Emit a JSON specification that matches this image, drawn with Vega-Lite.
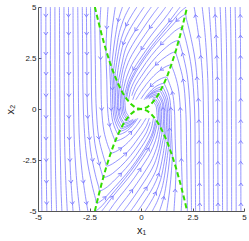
{
"$schema": "https://vega.github.io/schema/vega-lite/v6.json",
"width": 206, "height": 204,
"autosize": {"type": "none"},
"padding": {"left": 38, "top": 7, "right": 5, "bottom": 30},
"background": "white",
"config": {"view": {"stroke": null}, "axis": {"grid": false, "domainColor": "#555555", "tickColor": "#555555", "labelFont": "Liberation Sans", "labelFontSize": 8, "labelColor": "#222222", "titleFont": "Liberation Sans", "titleFontSize": 11, "titleFontWeight": "normal", "titleColor": "#222222"}},
"datasets": {
"s": [
{"l":0,"o":0,"x":2.2,"y":5},{"l":0,"o":1,"x":2.0,"y":4.85},{"l":0,"o":2,"x":1.75,"y":4.58},{"l":0,"o":3,"x":1.5,"y":4.28},{"l":0,"o":4,"x":1.25,"y":3.98},{"l":0,"o":5,"x":1.0,"y":3.68},{"l":0,"o":6,"x":0.75,"y":3.37},{"l":0,"o":7,"x":0.5,"y":3.05},{"l":0,"o":8,"x":0.25,"y":2.7},{"l":0,"o":9,"x":0,"y":2.33},{"l":0,"o":10,"x":-0.25,"y":1.93},{"l":0,"o":11,"x":-0.5,"y":1.45},{"l":0,"o":12,"x":-0.65,"y":1.0},{"l":0,"o":13,"x":-0.74,"y":0.56},
{"l":1,"o":0,"x":1.9,"y":5},{"l":1,"o":1,"x":1.65,"y":4.67},{"l":1,"o":2,"x":1.4,"y":4.33},{"l":1,"o":3,"x":1.15,"y":4.02},{"l":1,"o":4,"x":0.9,"y":3.72},{"l":1,"o":5,"x":0.65,"y":3.42},{"l":1,"o":6,"x":0.4,"y":3.1},{"l":1,"o":7,"x":0.15,"y":2.74},{"l":1,"o":8,"x":-0.1,"y":2.37},{"l":1,"o":9,"x":-0.35,"y":1.97},{"l":1,"o":10,"x":-0.6,"y":1.44},{"l":1,"o":11,"x":-0.72,"y":1.0},{"l":1,"o":12,"x":-0.8,"y":0.64},{"l":1,"o":13,"x":-0.78,"y":0.32},{"l":1,"o":14,"x":-0.76,"y":0},{"l":1,"o":15,"x":-0.72,"y":-0.17},{"l":1,"o":16,"x":-0.65,"y":-0.28},{"l":1,"o":17,"x":-0.61,"y":-0.33},{"l":1,"o":18,"x":-0.59,"y":-0.35},
{"l":2,"o":0,"x":1.55,"y":5},{"l":2,"o":1,"x":1.3,"y":4.64},{"l":2,"o":2,"x":1.05,"y":4.31},{"l":2,"o":3,"x":0.8,"y":4.0},{"l":2,"o":4,"x":0.55,"y":3.68},{"l":2,"o":5,"x":0.3,"y":3.34},{"l":2,"o":6,"x":0.05,"y":2.97},{"l":2,"o":7,"x":-0.2,"y":2.59},{"l":2,"o":8,"x":-0.45,"y":2.17},{"l":2,"o":9,"x":-0.7,"y":1.56},{"l":2,"o":10,"x":-0.82,"y":1.1},{"l":2,"o":11,"x":-0.88,"y":0.77},{"l":2,"o":12,"x":-0.86,"y":0.39},{"l":2,"o":13,"x":-0.84,"y":0},{"l":2,"o":14,"x":-0.79,"y":-0.21},{"l":2,"o":15,"x":-0.72,"y":-0.33},{"l":2,"o":16,"x":-0.67,"y":-0.4},{"l":2,"o":17,"x":-0.65,"y":-0.42},{"l":2,"o":18,"x":-0.55,"y":-0.41},
{"l":3,"o":0,"x":1.2,"y":5},{"l":3,"o":1,"x":0.95,"y":4.66},{"l":3,"o":2,"x":0.7,"y":4.34},{"l":3,"o":3,"x":0.45,"y":4.01},{"l":3,"o":4,"x":0.2,"y":3.65},{"l":3,"o":5,"x":-0.05,"y":3.28},{"l":3,"o":6,"x":-0.3,"y":2.89},{"l":3,"o":7,"x":-0.55,"y":2.44},{"l":3,"o":8,"x":-0.8,"y":1.76},{"l":3,"o":9,"x":-0.9,"y":1.25},{"l":3,"o":10,"x":-0.95,"y":0.9},{"l":3,"o":11,"x":-0.93,"y":0.45},{"l":3,"o":12,"x":-0.91,"y":0},{"l":3,"o":13,"x":-0.86,"y":-0.24},{"l":3,"o":14,"x":-0.77,"y":-0.39},{"l":3,"o":15,"x":-0.72,"y":-0.46},{"l":3,"o":16,"x":-0.7,"y":-0.49},{"l":3,"o":17,"x":-0.55,"y":-0.47},
{"l":4,"o":0,"x":0.85,"y":5},{"l":4,"o":1,"x":0.6,"y":4.67},{"l":4,"o":2,"x":0.35,"y":4.32},{"l":4,"o":3,"x":0.1,"y":3.95},{"l":4,"o":4,"x":-0.15,"y":3.57},{"l":4,"o":5,"x":-0.4,"y":3.17},{"l":4,"o":6,"x":-0.65,"y":2.69},{"l":4,"o":7,"x":-0.88,"y":1.95},{"l":4,"o":8,"x":-0.98,"y":1.4},{"l":4,"o":9,"x":-1.03,"y":1.06},{"l":4,"o":10,"x":-1.0,"y":0.53},{"l":4,"o":11,"x":-0.98,"y":0},{"l":4,"o":12,"x":-0.93,"y":-0.29},{"l":4,"o":13,"x":-0.84,"y":-0.46},{"l":4,"o":14,"x":-0.78,"y":-0.54},{"l":4,"o":15,"x":-0.76,"y":-0.58},{"l":4,"o":16,"x":-0.57,"y":-0.54},
{"l":5,"o":0,"x":0.5,"y":5},{"l":5,"o":1,"x":0.25,"y":4.65},{"l":5,"o":2,"x":0,"y":4.27},{"l":5,"o":3,"x":-0.25,"y":3.89},{"l":5,"o":4,"x":-0.5,"y":3.47},{"l":5,"o":5,"x":-0.75,"y":2.95},{"l":5,"o":6,"x":-0.95,"y":2.1},{"l":5,"o":7,"x":-1.06,"y":1.55},{"l":5,"o":8,"x":-1.12,"y":1.25},{"l":5,"o":9,"x":-1.09,"y":0.63},{"l":5,"o":10,"x":-1.07,"y":0},{"l":5,"o":11,"x":-1.01,"y":-0.34},{"l":5,"o":12,"x":-0.91,"y":-0.54},{"l":5,"o":13,"x":-0.85,"y":-0.64},{"l":5,"o":14,"x":-0.82,"y":-0.68},{"l":5,"o":15,"x":-0.6,"y":-0.63},{"l":5,"o":16,"x":-0.38,"y":-0.5},
{"l":6,"o":0,"x":0.15,"y":5},{"l":6,"o":1,"x":-0.1,"y":4.63},{"l":6,"o":2,"x":-0.35,"y":4.24},{"l":6,"o":3,"x":-0.6,"y":3.8},{"l":6,"o":4,"x":-0.85,"y":3.22},{"l":6,"o":5,"x":-1.05,"y":2.35},{"l":6,"o":6,"x":-1.14,"y":1.75},{"l":6,"o":7,"x":-1.18,"y":1.39},{"l":6,"o":8,"x":-1.15,"y":0.7},{"l":6,"o":9,"x":-1.13,"y":0},{"l":6,"o":10,"x":-1.06,"y":-0.38},{"l":6,"o":11,"x":-0.96,"y":-0.6},{"l":6,"o":12,"x":-0.89,"y":-0.71},{"l":6,"o":13,"x":-0.87,"y":-0.75},{"l":6,"o":14,"x":-0.62,"y":-0.71},{"l":6,"o":15,"x":-0.38,"y":-0.55},
{"l":7,"o":0,"x":-0.2,"y":5},{"l":7,"o":1,"x":-0.45,"y":4.6},{"l":7,"o":2,"x":-0.7,"y":4.14},{"l":7,"o":3,"x":-0.95,"y":3.47},{"l":7,"o":4,"x":-1.13,"y":2.6},{"l":7,"o":5,"x":-1.22,"y":2.0},{"l":7,"o":6,"x":-1.27,"y":1.61},{"l":7,"o":7,"x":-1.24,"y":0.81},{"l":7,"o":8,"x":-1.21,"y":0},{"l":7,"o":9,"x":-1.14,"y":-0.44},{"l":7,"o":10,"x":-1.03,"y":-0.7},{"l":7,"o":11,"x":-0.96,"y":-0.83},{"l":7,"o":12,"x":-0.93,"y":-0.87},{"l":7,"o":13,"x":-0.75,"y":-0.84},{"l":7,"o":14,"x":-0.5,"y":-0.72},{"l":7,"o":15,"x":-0.25,"y":-0.48},
{"l":8,"o":0,"x":-0.55,"y":5},{"l":8,"o":1,"x":-0.8,"y":4.5},{"l":8,"o":2,"x":-1.05,"y":3.75},{"l":8,"o":3,"x":-1.22,"y":2.75},{"l":8,"o":4,"x":-1.3,"y":2.15},{"l":8,"o":5,"x":-1.34,"y":1.8},{"l":8,"o":6,"x":-1.31,"y":0.9},{"l":8,"o":7,"x":-1.28,"y":0},{"l":8,"o":8,"x":-1.21,"y":-0.49},{"l":8,"o":9,"x":-1.09,"y":-0.78},{"l":8,"o":10,"x":-1.01,"y":-0.92},{"l":8,"o":11,"x":-0.98,"y":-0.97},{"l":8,"o":12,"x":-0.75,"y":-0.9},{"l":8,"o":13,"x":-0.5,"y":-0.76},{"l":8,"o":14,"x":-0.25,"y":-0.52},
{"l":9,"o":0,"x":-0.9,"y":5},{"l":9,"o":1,"x":-1.1,"y":4.36},{"l":9,"o":2,"x":-1.27,"y":3.4},{"l":9,"o":3,"x":-1.37,"y":2.6},{"l":9,"o":4,"x":-1.42,"y":2.02},{"l":9,"o":5,"x":-1.39,"y":1.01},{"l":9,"o":6,"x":-1.36,"y":0},{"l":9,"o":7,"x":-1.28,"y":-0.55},{"l":9,"o":8,"x":-1.16,"y":-0.87},{"l":9,"o":9,"x":-1.08,"y":-1.04},{"l":9,"o":10,"x":-1.04,"y":-1.09},{"l":9,"o":11,"x":-0.8,"y":-1.02},{"l":9,"o":12,"x":-0.55,"y":-0.86},{"l":9,"o":13,"x":-0.3,"y":-0.6},
{"l":10,"o":0,"x":-1.25,"y":5},{"l":10,"o":1,"x":-1.4,"y":3.92},{"l":10,"o":2,"x":-1.48,"y":3.0},{"l":10,"o":3,"x":-1.52,"y":2.31},{"l":10,"o":4,"x":-1.48,"y":1.16},{"l":10,"o":5,"x":-1.45,"y":0},{"l":10,"o":6,"x":-1.37,"y":-0.62},{"l":10,"o":7,"x":-1.24,"y":-1.0},{"l":10,"o":8,"x":-1.15,"y":-1.19},{"l":10,"o":9,"x":-1.12,"y":-1.25},{"l":10,"o":10,"x":-0.9,"y":-1.2},{"l":10,"o":11,"x":-0.65,"y":-1.05},{"l":10,"o":12,"x":-0.4,"y":-0.8},{"l":10,"o":13,"x":-0.15,"y":-0.45},
{"l":11,"o":0,"x":-1.6,"y":5},{"l":11,"o":1,"x":-1.66,"y":4.0},{"l":11,"o":2,"x":-1.7,"y":2.89},{"l":11,"o":3,"x":-1.66,"y":1.45},{"l":11,"o":4,"x":-1.62,"y":0},{"l":11,"o":5,"x":-1.53,"y":-0.78},{"l":11,"o":6,"x":-1.38,"y":-1.25},{"l":11,"o":7,"x":-1.29,"y":-1.48},{"l":11,"o":8,"x":-1.25,"y":-1.56},{"l":11,"o":9,"x":-1.0,"y":-1.5},{"l":11,"o":10,"x":-0.75,"y":-1.36},{"l":11,"o":11,"x":-0.5,"y":-1.15},{"l":11,"o":12,"x":-0.25,"y":-0.86},{"l":11,"o":13,"x":0,"y":-0.5},
{"l":12,"o":0,"x":-1.95,"y":5},{"l":12,"o":1,"x":-1.98,"y":4.5},{"l":12,"o":2,"x":-2.0,"y":4.0},{"l":12,"o":3,"x":-1.95,"y":2.0},{"l":12,"o":4,"x":-1.91,"y":0},{"l":12,"o":5,"x":-1.8,"y":-1.08},{"l":12,"o":6,"x":-1.63,"y":-1.73},{"l":12,"o":7,"x":-1.51,"y":-2.05},{"l":12,"o":8,"x":-1.47,"y":-2.16},{"l":12,"o":9,"x":-1.25,"y":-2.1},{"l":12,"o":10,"x":-1.0,"y":-1.95},{"l":12,"o":11,"x":-0.75,"y":-1.75},{"l":12,"o":12,"x":-0.5,"y":-1.5},{"l":12,"o":13,"x":-0.25,"y":-1.2},{"l":12,"o":14,"x":0,"y":-0.85},{"l":12,"o":15,"x":0.25,"y":-0.45},
{"l":13,"o":0,"x":-2.25,"y":5},{"l":13,"o":1,"x":-2.22,"y":2.5},{"l":13,"o":2,"x":-2.17,"y":0},{"l":13,"o":3,"x":-2.05,"y":-1.4},{"l":13,"o":4,"x":-1.85,"y":-2.23},{"l":13,"o":5,"x":-1.72,"y":-2.65},{"l":13,"o":6,"x":-1.67,"y":-2.79},{"l":13,"o":7,"x":-1.5,"y":-2.75},{"l":13,"o":8,"x":-1.25,"y":-2.6},{"l":13,"o":9,"x":-1.0,"y":-2.42},{"l":13,"o":10,"x":-0.75,"y":-2.2},{"l":13,"o":11,"x":-0.5,"y":-1.93},{"l":13,"o":12,"x":-0.25,"y":-1.6},{"l":13,"o":13,"x":0,"y":-1.25},{"l":13,"o":14,"x":0.25,"y":-0.85},{"l":13,"o":15,"x":0.4,"y":-0.45},
{"l":14,"o":0,"x":-2.45,"y":5},{"l":14,"o":1,"x":-2.42,"y":2.5},{"l":14,"o":2,"x":-2.38,"y":0},{"l":14,"o":3,"x":-2.24,"y":-1.68},{"l":14,"o":4,"x":-2.03,"y":-2.68},{"l":14,"o":5,"x":-1.89,"y":-3.18},{"l":14,"o":6,"x":-1.83,"y":-3.35},{"l":14,"o":7,"x":-1.5,"y":-3.24},{"l":14,"o":8,"x":-1.25,"y":-3.05},{"l":14,"o":9,"x":-1.0,"y":-2.83},{"l":14,"o":10,"x":-0.75,"y":-2.57},{"l":14,"o":11,"x":-0.5,"y":-2.28},{"l":14,"o":12,"x":-0.25,"y":-1.95},{"l":14,"o":13,"x":0,"y":-1.58},{"l":14,"o":14,"x":0.25,"y":-1.18},{"l":14,"o":15,"x":0.45,"y":-0.65},
{"l":15,"o":0,"x":-2.65,"y":5},{"l":15,"o":1,"x":-2.63,"y":2.5},{"l":15,"o":2,"x":-2.6,"y":0},{"l":15,"o":3,"x":-2.45,"y":-2},{"l":15,"o":4,"x":-2.22,"y":-3.2},{"l":15,"o":5,"x":-2.06,"y":-3.8},{"l":15,"o":6,"x":-2.0,"y":-4.0},{"l":15,"o":7,"x":-1.75,"y":-3.9},{"l":15,"o":8,"x":-1.5,"y":-3.7},{"l":15,"o":9,"x":-1.25,"y":-3.45},{"l":15,"o":10,"x":-1.0,"y":-3.2},{"l":15,"o":11,"x":-0.75,"y":-2.92},{"l":15,"o":12,"x":-0.5,"y":-2.62},{"l":15,"o":13,"x":-0.25,"y":-2.28},{"l":15,"o":14,"x":0,"y":-1.9},{"l":15,"o":15,"x":0.25,"y":-1.5},{"l":15,"o":16,"x":0.5,"y":-0.95},{"l":15,"o":17,"x":0.6,"y":-0.45},
{"l":16,"o":0,"x":-2.85,"y":5},{"l":16,"o":1,"x":-2.83,"y":2.5},{"l":16,"o":2,"x":-2.8,"y":0},{"l":16,"o":3,"x":-2.64,"y":-2.31},{"l":16,"o":4,"x":-2.38,"y":-3.7},{"l":16,"o":5,"x":-2.21,"y":-4.39},{"l":16,"o":6,"x":-2.15,"y":-4.62},{"l":16,"o":7,"x":-2.0,"y":-4.55},{"l":16,"o":8,"x":-1.75,"y":-4.35},{"l":16,"o":9,"x":-1.5,"y":-4.08},{"l":16,"o":10,"x":-1.25,"y":-3.8},{"l":16,"o":11,"x":-1.0,"y":-3.52},{"l":16,"o":12,"x":-0.75,"y":-3.23},{"l":16,"o":13,"x":-0.5,"y":-2.92},{"l":16,"o":14,"x":-0.25,"y":-2.57},{"l":16,"o":15,"x":0,"y":-2.2},{"l":16,"o":16,"x":0.25,"y":-1.8},{"l":16,"o":17,"x":0.5,"y":-1.3},{"l":16,"o":18,"x":0.6,"y":-1.0},{"l":16,"o":19,"x":0.7,"y":-0.5},
{"l":17,"o":0,"x":-3.07,"y":5},{"l":17,"o":1,"x":-3.05,"y":2.5},{"l":17,"o":2,"x":-3.03,"y":0},{"l":17,"o":3,"x":-2.99,"y":-1.5},{"l":17,"o":4,"x":-2.87,"y":-3},{"l":17,"o":5,"x":-2.74,"y":-4},{"l":17,"o":6,"x":-2.58,"y":-5},
{"l":18,"o":0,"x":-3.3,"y":5},{"l":18,"o":1,"x":-3.29,"y":2.5},{"l":18,"o":2,"x":-3.27,"y":0},{"l":18,"o":3,"x":-3.24,"y":-1.5},{"l":18,"o":4,"x":-3.16,"y":-3},{"l":18,"o":5,"x":-3.08,"y":-4},{"l":18,"o":6,"x":-2.97,"y":-5},
{"l":19,"o":0,"x":-3.52,"y":5},{"l":19,"o":1,"x":-3.51,"y":2.5},{"l":19,"o":2,"x":-3.5,"y":0},{"l":19,"o":3,"x":-3.48,"y":-1.5},{"l":19,"o":4,"x":-3.43,"y":-3},{"l":19,"o":5,"x":-3.37,"y":-4},{"l":19,"o":6,"x":-3.3,"y":-5},
{"l":20,"o":0,"x":-3.74,"y":5},{"l":20,"o":1,"x":-3.73,"y":2.5},{"l":20,"o":2,"x":-3.72,"y":0},{"l":20,"o":3,"x":-3.71,"y":-1.5},{"l":20,"o":4,"x":-3.67,"y":-3},{"l":20,"o":5,"x":-3.63,"y":-4},{"l":20,"o":6,"x":-3.58,"y":-5},
{"l":21,"o":0,"x":-3.96,"y":5},{"l":21,"o":1,"x":-3.95,"y":2.5},{"l":21,"o":2,"x":-3.94,"y":0},{"l":21,"o":3,"x":-3.93,"y":-1.5},{"l":21,"o":4,"x":-3.9,"y":-3},{"l":21,"o":5,"x":-3.88,"y":-4},{"l":21,"o":6,"x":-3.84,"y":-5},
{"l":22,"o":0,"x":-4.18,"y":5},{"l":22,"o":1,"x":-4.17,"y":0},{"l":22,"o":2,"x":-4.15,"y":-3},{"l":22,"o":3,"x":-4.1,"y":-5},
{"l":23,"o":0,"x":-4.4,"y":5},{"l":23,"o":1,"x":-4.39,"y":0},{"l":23,"o":2,"x":-4.37,"y":-3},{"l":23,"o":3,"x":-4.34,"y":-5},
{"l":24,"o":0,"x":-4.62,"y":5},{"l":24,"o":1,"x":-4.61,"y":0},{"l":24,"o":2,"x":-4.6,"y":-3},{"l":24,"o":3,"x":-4.57,"y":-5},
{"l":25,"o":0,"x":-4.85,"y":5},{"l":25,"o":1,"x":-4.84,"y":0},{"l":25,"o":2,"x":-4.83,"y":-3},{"l":25,"o":3,"x":-4.81,"y":-5},
{"l":100,"o":0,"x":-2.2,"y":-5},{"l":100,"o":1,"x":-2.0,"y":-4.85},{"l":100,"o":2,"x":-1.75,"y":-4.58},{"l":100,"o":3,"x":-1.5,"y":-4.28},{"l":100,"o":4,"x":-1.25,"y":-3.98},{"l":100,"o":5,"x":-1.0,"y":-3.68},{"l":100,"o":6,"x":-0.75,"y":-3.37},{"l":100,"o":7,"x":-0.5,"y":-3.05},{"l":100,"o":8,"x":-0.25,"y":-2.7},{"l":100,"o":9,"x":0,"y":-2.33},{"l":100,"o":10,"x":0.25,"y":-1.93},{"l":100,"o":11,"x":0.5,"y":-1.45},{"l":100,"o":12,"x":0.65,"y":-1.0},{"l":100,"o":13,"x":0.74,"y":-0.56},
{"l":101,"o":0,"x":-1.9,"y":-5},{"l":101,"o":1,"x":-1.65,"y":-4.67},{"l":101,"o":2,"x":-1.4,"y":-4.33},{"l":101,"o":3,"x":-1.15,"y":-4.02},{"l":101,"o":4,"x":-0.9,"y":-3.72},{"l":101,"o":5,"x":-0.65,"y":-3.42},{"l":101,"o":6,"x":-0.4,"y":-3.1},{"l":101,"o":7,"x":-0.15,"y":-2.74},{"l":101,"o":8,"x":0.1,"y":-2.37},{"l":101,"o":9,"x":0.35,"y":-1.97},{"l":101,"o":10,"x":0.6,"y":-1.44},{"l":101,"o":11,"x":0.72,"y":-1.0},{"l":101,"o":12,"x":0.8,"y":-0.64},{"l":101,"o":13,"x":0.78,"y":-0.32},{"l":101,"o":14,"x":0.76,"y":0},{"l":101,"o":15,"x":0.72,"y":0.17},{"l":101,"o":16,"x":0.65,"y":0.28},{"l":101,"o":17,"x":0.61,"y":0.33},{"l":101,"o":18,"x":0.59,"y":0.35},
{"l":102,"o":0,"x":-1.55,"y":-5},{"l":102,"o":1,"x":-1.3,"y":-4.64},{"l":102,"o":2,"x":-1.05,"y":-4.31},{"l":102,"o":3,"x":-0.8,"y":-4.0},{"l":102,"o":4,"x":-0.55,"y":-3.68},{"l":102,"o":5,"x":-0.3,"y":-3.34},{"l":102,"o":6,"x":-0.05,"y":-2.97},{"l":102,"o":7,"x":0.2,"y":-2.59},{"l":102,"o":8,"x":0.45,"y":-2.17},{"l":102,"o":9,"x":0.7,"y":-1.56},{"l":102,"o":10,"x":0.82,"y":-1.1},{"l":102,"o":11,"x":0.88,"y":-0.77},{"l":102,"o":12,"x":0.86,"y":-0.39},{"l":102,"o":13,"x":0.84,"y":0},{"l":102,"o":14,"x":0.79,"y":0.21},{"l":102,"o":15,"x":0.72,"y":0.33},{"l":102,"o":16,"x":0.67,"y":0.4},{"l":102,"o":17,"x":0.65,"y":0.42},{"l":102,"o":18,"x":0.55,"y":0.41},
{"l":103,"o":0,"x":-1.2,"y":-5},{"l":103,"o":1,"x":-0.95,"y":-4.66},{"l":103,"o":2,"x":-0.7,"y":-4.34},{"l":103,"o":3,"x":-0.45,"y":-4.01},{"l":103,"o":4,"x":-0.2,"y":-3.65},{"l":103,"o":5,"x":0.05,"y":-3.28},{"l":103,"o":6,"x":0.3,"y":-2.89},{"l":103,"o":7,"x":0.55,"y":-2.44},{"l":103,"o":8,"x":0.8,"y":-1.76},{"l":103,"o":9,"x":0.9,"y":-1.25},{"l":103,"o":10,"x":0.95,"y":-0.9},{"l":103,"o":11,"x":0.93,"y":-0.45},{"l":103,"o":12,"x":0.91,"y":0},{"l":103,"o":13,"x":0.86,"y":0.24},{"l":103,"o":14,"x":0.77,"y":0.39},{"l":103,"o":15,"x":0.72,"y":0.46},{"l":103,"o":16,"x":0.7,"y":0.49},{"l":103,"o":17,"x":0.55,"y":0.47},
{"l":104,"o":0,"x":-0.85,"y":-5},{"l":104,"o":1,"x":-0.6,"y":-4.67},{"l":104,"o":2,"x":-0.35,"y":-4.32},{"l":104,"o":3,"x":-0.1,"y":-3.95},{"l":104,"o":4,"x":0.15,"y":-3.57},{"l":104,"o":5,"x":0.4,"y":-3.17},{"l":104,"o":6,"x":0.65,"y":-2.69},{"l":104,"o":7,"x":0.88,"y":-1.95},{"l":104,"o":8,"x":0.98,"y":-1.4},{"l":104,"o":9,"x":1.03,"y":-1.06},{"l":104,"o":10,"x":1.0,"y":-0.53},{"l":104,"o":11,"x":0.98,"y":0},{"l":104,"o":12,"x":0.93,"y":0.29},{"l":104,"o":13,"x":0.84,"y":0.46},{"l":104,"o":14,"x":0.78,"y":0.54},{"l":104,"o":15,"x":0.76,"y":0.58},{"l":104,"o":16,"x":0.57,"y":0.54},
{"l":105,"o":0,"x":-0.5,"y":-5},{"l":105,"o":1,"x":-0.25,"y":-4.65},{"l":105,"o":2,"x":0,"y":-4.27},{"l":105,"o":3,"x":0.25,"y":-3.89},{"l":105,"o":4,"x":0.5,"y":-3.47},{"l":105,"o":5,"x":0.75,"y":-2.95},{"l":105,"o":6,"x":0.95,"y":-2.1},{"l":105,"o":7,"x":1.06,"y":-1.55},{"l":105,"o":8,"x":1.12,"y":-1.25},{"l":105,"o":9,"x":1.09,"y":-0.63},{"l":105,"o":10,"x":1.07,"y":0},{"l":105,"o":11,"x":1.01,"y":0.34},{"l":105,"o":12,"x":0.91,"y":0.54},{"l":105,"o":13,"x":0.85,"y":0.64},{"l":105,"o":14,"x":0.82,"y":0.68},{"l":105,"o":15,"x":0.6,"y":0.63},{"l":105,"o":16,"x":0.38,"y":0.5},
{"l":106,"o":0,"x":-0.15,"y":-5},{"l":106,"o":1,"x":0.1,"y":-4.63},{"l":106,"o":2,"x":0.35,"y":-4.24},{"l":106,"o":3,"x":0.6,"y":-3.8},{"l":106,"o":4,"x":0.85,"y":-3.22},{"l":106,"o":5,"x":1.05,"y":-2.35},{"l":106,"o":6,"x":1.14,"y":-1.75},{"l":106,"o":7,"x":1.18,"y":-1.39},{"l":106,"o":8,"x":1.15,"y":-0.7},{"l":106,"o":9,"x":1.13,"y":0},{"l":106,"o":10,"x":1.06,"y":0.38},{"l":106,"o":11,"x":0.96,"y":0.6},{"l":106,"o":12,"x":0.89,"y":0.71},{"l":106,"o":13,"x":0.87,"y":0.75},{"l":106,"o":14,"x":0.62,"y":0.71},{"l":106,"o":15,"x":0.38,"y":0.55},
{"l":107,"o":0,"x":0.2,"y":-5},{"l":107,"o":1,"x":0.45,"y":-4.6},{"l":107,"o":2,"x":0.7,"y":-4.14},{"l":107,"o":3,"x":0.95,"y":-3.47},{"l":107,"o":4,"x":1.13,"y":-2.6},{"l":107,"o":5,"x":1.22,"y":-2.0},{"l":107,"o":6,"x":1.27,"y":-1.61},{"l":107,"o":7,"x":1.24,"y":-0.81},{"l":107,"o":8,"x":1.21,"y":0},{"l":107,"o":9,"x":1.14,"y":0.44},{"l":107,"o":10,"x":1.03,"y":0.7},{"l":107,"o":11,"x":0.96,"y":0.83},{"l":107,"o":12,"x":0.93,"y":0.87},{"l":107,"o":13,"x":0.75,"y":0.84},{"l":107,"o":14,"x":0.5,"y":0.72},{"l":107,"o":15,"x":0.25,"y":0.48},
{"l":108,"o":0,"x":0.55,"y":-5},{"l":108,"o":1,"x":0.8,"y":-4.5},{"l":108,"o":2,"x":1.05,"y":-3.75},{"l":108,"o":3,"x":1.22,"y":-2.75},{"l":108,"o":4,"x":1.3,"y":-2.15},{"l":108,"o":5,"x":1.34,"y":-1.8},{"l":108,"o":6,"x":1.31,"y":-0.9},{"l":108,"o":7,"x":1.28,"y":0},{"l":108,"o":8,"x":1.21,"y":0.49},{"l":108,"o":9,"x":1.09,"y":0.78},{"l":108,"o":10,"x":1.01,"y":0.92},{"l":108,"o":11,"x":0.98,"y":0.97},{"l":108,"o":12,"x":0.75,"y":0.9},{"l":108,"o":13,"x":0.5,"y":0.76},{"l":108,"o":14,"x":0.25,"y":0.52},
{"l":109,"o":0,"x":0.9,"y":-5},{"l":109,"o":1,"x":1.1,"y":-4.36},{"l":109,"o":2,"x":1.27,"y":-3.4},{"l":109,"o":3,"x":1.37,"y":-2.6},{"l":109,"o":4,"x":1.42,"y":-2.02},{"l":109,"o":5,"x":1.39,"y":-1.01},{"l":109,"o":6,"x":1.36,"y":0},{"l":109,"o":7,"x":1.28,"y":0.55},{"l":109,"o":8,"x":1.16,"y":0.87},{"l":109,"o":9,"x":1.08,"y":1.04},{"l":109,"o":10,"x":1.04,"y":1.09},{"l":109,"o":11,"x":0.8,"y":1.02},{"l":109,"o":12,"x":0.55,"y":0.86},{"l":109,"o":13,"x":0.3,"y":0.6},
{"l":110,"o":0,"x":1.25,"y":-5},{"l":110,"o":1,"x":1.4,"y":-3.92},{"l":110,"o":2,"x":1.48,"y":-3.0},{"l":110,"o":3,"x":1.52,"y":-2.31},{"l":110,"o":4,"x":1.48,"y":-1.16},{"l":110,"o":5,"x":1.45,"y":0},{"l":110,"o":6,"x":1.37,"y":0.62},{"l":110,"o":7,"x":1.24,"y":1.0},{"l":110,"o":8,"x":1.15,"y":1.19},{"l":110,"o":9,"x":1.12,"y":1.25},{"l":110,"o":10,"x":0.9,"y":1.2},{"l":110,"o":11,"x":0.65,"y":1.05},{"l":110,"o":12,"x":0.4,"y":0.8},{"l":110,"o":13,"x":0.15,"y":0.45},
{"l":111,"o":0,"x":1.6,"y":-5},{"l":111,"o":1,"x":1.66,"y":-4.0},{"l":111,"o":2,"x":1.7,"y":-2.89},{"l":111,"o":3,"x":1.66,"y":-1.45},{"l":111,"o":4,"x":1.62,"y":0},{"l":111,"o":5,"x":1.53,"y":0.78},{"l":111,"o":6,"x":1.38,"y":1.25},{"l":111,"o":7,"x":1.29,"y":1.48},{"l":111,"o":8,"x":1.25,"y":1.56},{"l":111,"o":9,"x":1.0,"y":1.5},{"l":111,"o":10,"x":0.75,"y":1.36},{"l":111,"o":11,"x":0.5,"y":1.15},{"l":111,"o":12,"x":0.25,"y":0.86},{"l":111,"o":13,"x":0,"y":0.5},
{"l":112,"o":0,"x":1.95,"y":-5},{"l":112,"o":1,"x":1.98,"y":-4.5},{"l":112,"o":2,"x":2.0,"y":-4.0},{"l":112,"o":3,"x":1.95,"y":-2.0},{"l":112,"o":4,"x":1.91,"y":0},{"l":112,"o":5,"x":1.8,"y":1.08},{"l":112,"o":6,"x":1.63,"y":1.73},{"l":112,"o":7,"x":1.51,"y":2.05},{"l":112,"o":8,"x":1.47,"y":2.16},{"l":112,"o":9,"x":1.25,"y":2.1},{"l":112,"o":10,"x":1.0,"y":1.95},{"l":112,"o":11,"x":0.75,"y":1.75},{"l":112,"o":12,"x":0.5,"y":1.5},{"l":112,"o":13,"x":0.25,"y":1.2},{"l":112,"o":14,"x":0,"y":0.85},{"l":112,"o":15,"x":-0.25,"y":0.45},
{"l":113,"o":0,"x":2.25,"y":-5},{"l":113,"o":1,"x":2.22,"y":-2.5},{"l":113,"o":2,"x":2.17,"y":0},{"l":113,"o":3,"x":2.05,"y":1.4},{"l":113,"o":4,"x":1.85,"y":2.23},{"l":113,"o":5,"x":1.72,"y":2.65},{"l":113,"o":6,"x":1.67,"y":2.79},{"l":113,"o":7,"x":1.5,"y":2.75},{"l":113,"o":8,"x":1.25,"y":2.6},{"l":113,"o":9,"x":1.0,"y":2.42},{"l":113,"o":10,"x":0.75,"y":2.2},{"l":113,"o":11,"x":0.5,"y":1.93},{"l":113,"o":12,"x":0.25,"y":1.6},{"l":113,"o":13,"x":0,"y":1.25},{"l":113,"o":14,"x":-0.25,"y":0.85},{"l":113,"o":15,"x":-0.4,"y":0.45},
{"l":114,"o":0,"x":2.45,"y":-5},{"l":114,"o":1,"x":2.42,"y":-2.5},{"l":114,"o":2,"x":2.38,"y":0},{"l":114,"o":3,"x":2.24,"y":1.68},{"l":114,"o":4,"x":2.03,"y":2.68},{"l":114,"o":5,"x":1.89,"y":3.18},{"l":114,"o":6,"x":1.83,"y":3.35},{"l":114,"o":7,"x":1.5,"y":3.24},{"l":114,"o":8,"x":1.25,"y":3.05},{"l":114,"o":9,"x":1.0,"y":2.83},{"l":114,"o":10,"x":0.75,"y":2.57},{"l":114,"o":11,"x":0.5,"y":2.28},{"l":114,"o":12,"x":0.25,"y":1.95},{"l":114,"o":13,"x":0,"y":1.58},{"l":114,"o":14,"x":-0.25,"y":1.18},{"l":114,"o":15,"x":-0.45,"y":0.65},
{"l":115,"o":0,"x":2.65,"y":-5},{"l":115,"o":1,"x":2.63,"y":-2.5},{"l":115,"o":2,"x":2.6,"y":0},{"l":115,"o":3,"x":2.45,"y":2},{"l":115,"o":4,"x":2.22,"y":3.2},{"l":115,"o":5,"x":2.06,"y":3.8},{"l":115,"o":6,"x":2.0,"y":4.0},{"l":115,"o":7,"x":1.75,"y":3.9},{"l":115,"o":8,"x":1.5,"y":3.7},{"l":115,"o":9,"x":1.25,"y":3.45},{"l":115,"o":10,"x":1.0,"y":3.2},{"l":115,"o":11,"x":0.75,"y":2.92},{"l":115,"o":12,"x":0.5,"y":2.62},{"l":115,"o":13,"x":0.25,"y":2.28},{"l":115,"o":14,"x":0,"y":1.9},{"l":115,"o":15,"x":-0.25,"y":1.5},{"l":115,"o":16,"x":-0.5,"y":0.95},{"l":115,"o":17,"x":-0.6,"y":0.45},
{"l":116,"o":0,"x":2.85,"y":-5},{"l":116,"o":1,"x":2.83,"y":-2.5},{"l":116,"o":2,"x":2.8,"y":0},{"l":116,"o":3,"x":2.64,"y":2.31},{"l":116,"o":4,"x":2.38,"y":3.7},{"l":116,"o":5,"x":2.21,"y":4.39},{"l":116,"o":6,"x":2.15,"y":4.62},{"l":116,"o":7,"x":2.0,"y":4.55},{"l":116,"o":8,"x":1.75,"y":4.35},{"l":116,"o":9,"x":1.5,"y":4.08},{"l":116,"o":10,"x":1.25,"y":3.8},{"l":116,"o":11,"x":1.0,"y":3.52},{"l":116,"o":12,"x":0.75,"y":3.23},{"l":116,"o":13,"x":0.5,"y":2.92},{"l":116,"o":14,"x":0.25,"y":2.57},{"l":116,"o":15,"x":0,"y":2.2},{"l":116,"o":16,"x":-0.25,"y":1.8},{"l":116,"o":17,"x":-0.5,"y":1.3},{"l":116,"o":18,"x":-0.6,"y":1.0},{"l":116,"o":19,"x":-0.7,"y":0.5},
{"l":117,"o":0,"x":3.07,"y":-5},{"l":117,"o":1,"x":3.05,"y":-2.5},{"l":117,"o":2,"x":3.03,"y":0},{"l":117,"o":3,"x":2.99,"y":1.5},{"l":117,"o":4,"x":2.87,"y":3},{"l":117,"o":5,"x":2.74,"y":4},{"l":117,"o":6,"x":2.58,"y":5},
{"l":118,"o":0,"x":3.3,"y":-5},{"l":118,"o":1,"x":3.29,"y":-2.5},{"l":118,"o":2,"x":3.27,"y":0},{"l":118,"o":3,"x":3.24,"y":1.5},{"l":118,"o":4,"x":3.16,"y":3},{"l":118,"o":5,"x":3.08,"y":4},{"l":118,"o":6,"x":2.97,"y":5},
{"l":119,"o":0,"x":3.52,"y":-5},{"l":119,"o":1,"x":3.51,"y":-2.5},{"l":119,"o":2,"x":3.5,"y":0},{"l":119,"o":3,"x":3.48,"y":1.5},{"l":119,"o":4,"x":3.43,"y":3},{"l":119,"o":5,"x":3.37,"y":4},{"l":119,"o":6,"x":3.3,"y":5},
{"l":120,"o":0,"x":3.74,"y":-5},{"l":120,"o":1,"x":3.73,"y":-2.5},{"l":120,"o":2,"x":3.72,"y":0},{"l":120,"o":3,"x":3.71,"y":1.5},{"l":120,"o":4,"x":3.67,"y":3},{"l":120,"o":5,"x":3.63,"y":4},{"l":120,"o":6,"x":3.58,"y":5},
{"l":121,"o":0,"x":3.96,"y":-5},{"l":121,"o":1,"x":3.95,"y":-2.5},{"l":121,"o":2,"x":3.94,"y":0},{"l":121,"o":3,"x":3.93,"y":1.5},{"l":121,"o":4,"x":3.9,"y":3},{"l":121,"o":5,"x":3.88,"y":4},{"l":121,"o":6,"x":3.84,"y":5},
{"l":122,"o":0,"x":4.18,"y":-5},{"l":122,"o":1,"x":4.17,"y":0},{"l":122,"o":2,"x":4.15,"y":3},{"l":122,"o":3,"x":4.1,"y":5},
{"l":123,"o":0,"x":4.4,"y":-5},{"l":123,"o":1,"x":4.39,"y":0},{"l":123,"o":2,"x":4.37,"y":3},{"l":123,"o":3,"x":4.34,"y":5},
{"l":124,"o":0,"x":4.62,"y":-5},{"l":124,"o":1,"x":4.61,"y":0},{"l":124,"o":2,"x":4.6,"y":3},{"l":124,"o":3,"x":4.57,"y":5},
{"l":125,"o":0,"x":4.85,"y":-5},{"l":125,"o":1,"x":4.84,"y":0},{"l":125,"o":2,"x":4.83,"y":3},{"l":125,"o":3,"x":4.81,"y":5}
],
"a": [
{"x":-4.62,"y":4.59,"r":180},{"x":-4.62,"y":3.7,"r":180},{"x":-4.62,"y":2.72,"r":180},{"x":-4.61,"y":1.74,"r":180},{"x":-4.61,"y":0.68,"r":180},{"x":-4.61,"y":-0.38,"r":180},{"x":-4.61,"y":-1.44,"r":180},{"x":-4.6,"y":-2.5,"r":179},{"x":-4.59,"y":-3.56,"r":179},{"x":-4.58,"y":-4.61,"r":179},
{"x":-3.52,"y":4.59,"r":180},{"x":-3.51,"y":3.7,"r":180},{"x":-3.51,"y":2.72,"r":180},{"x":-3.5,"y":1.74,"r":180},{"x":-3.5,"y":0.68,"r":180},{"x":-3.5,"y":-0.38,"r":179},{"x":-3.48,"y":-1.44,"r":178},{"x":-3.45,"y":-2.5,"r":177},{"x":-3.4,"y":-3.56,"r":176},{"x":-3.33,"y":-4.61,"r":175},
{"x":-2.65,"y":4.59,"r":180},{"x":-2.64,"y":3.7,"r":180},{"x":-2.63,"y":2.72,"r":180},{"x":-2.62,"y":1.74,"r":179},{"x":-2.61,"y":0.68,"r":179},{"x":-2.59,"y":-0.38,"r":178},{"x":-2.5,"y":-1.44,"r":174},{"x":-2.35,"y":-2.5,"r":169},{"x":-2.8,"y":-3.56,"r":172},{"x":-2.65,"y":-4.61,"r":171},
{"x":2.85,"y":-4.68,"r":0},{"x":2.84,"y":-3.7,"r":0},{"x":2.83,"y":-2.64,"r":0},{"x":2.82,"y":-1.62,"r":0},{"x":2.81,"y":-0.6,"r":359},{"x":2.79,"y":0.45,"r":358},{"x":2.72,"y":1.5,"r":356},{"x":2.9,"y":2.55,"r":355},{"x":2.8,"y":3.55,"r":353},{"x":2.65,"y":4.56,"r":351},
{"x":3.74,"y":-4.68,"r":0},{"x":3.73,"y":-3.7,"r":0},{"x":3.73,"y":-2.64,"r":0},{"x":3.72,"y":-1.62,"r":0},{"x":3.72,"y":-0.6,"r":0},{"x":3.72,"y":0.45,"r":0},{"x":3.71,"y":1.5,"r":359},{"x":3.68,"y":2.55,"r":358},{"x":3.65,"y":3.55,"r":358},{"x":3.6,"y":4.56,"r":357},
{"x":4.85,"y":-4.68,"r":0},{"x":4.85,"y":-3.7,"r":0},{"x":4.84,"y":-2.64,"r":0},{"x":4.84,"y":-1.62,"r":0},{"x":4.84,"y":-0.6,"r":0},{"x":4.84,"y":0.45,"r":0},{"x":4.84,"y":1.5,"r":0},{"x":4.83,"y":2.55,"r":0},{"x":4.83,"y":3.55,"r":359},{"x":4.82,"y":4.56,"r":359},
{"x":0.45,"y":4.01,"r":216},{"x":-0.45,"y":-4.01,"r":36},
{"x":-0.7,"y":4.14,"r":204},{"x":0.7,"y":-4.14,"r":24},
{"x":1.4,"y":4.33,"r":216},{"x":-1.4,"y":-4.33,"r":36},
{"x":1.0,"y":3.2,"r":223},{"x":-1.0,"y":-3.2,"r":43},
{"x":-0.25,"y":3.89,"r":212},{"x":0.25,"y":-3.89,"r":32},
{"x":0.05,"y":2.97,"r":214},{"x":-0.05,"y":-2.97,"r":34},
{"x":0.75,"y":2.2,"r":226},{"x":-0.75,"y":-2.2,"r":46},
{"x":-1.1,"y":4.36,"r":193},{"x":1.1,"y":-4.36,"r":13},
{"x":0.5,"y":1.15,"r":225},{"x":-0.5,"y":-1.15,"r":45},
{"x":-0.85,"y":3.22,"r":197},{"x":0.85,"y":-3.22,"r":17},
{"x":-0.35,"y":1.97,"r":208},{"x":0.35,"y":-1.97,"r":28},
{"x":1.75,"y":4.35,"r":227},{"x":-1.75,"y":-4.35,"r":47},
{"x":-1.66,"y":4.0,"r":183},{"x":1.66,"y":-4.0,"r":3},
{"x":1.0,"y":1.95,"r":235},{"x":-1.0,"y":-1.95,"r":55},
{"x":-1.91,"y":0,"r":177},{"x":1.91,"y":0,"r":357},
{"x":-1.96,"y":2.5,"r":179},{"x":1.96,"y":-2.5,"r":359},
{"x":-1.45,"y":0,"r":176},{"x":1.45,"y":0,"r":356},
{"x":-1.07,"y":0,"r":174},{"x":1.07,"y":0,"r":354},
{"x":-1.53,"y":-0.78,"r":169},{"x":1.53,"y":0.78,"r":349},
{"x":-2.05,"y":-1.4,"r":170},{"x":2.05,"y":1.4,"r":350},
{"x":-2.03,"y":-2.68,"r":166},{"x":2.03,"y":2.68,"r":346},
{"x":-1.39,"y":1.01,"r":178},{"x":1.39,"y":-1.01,"r":358}
],
"g": [
{"c":1,"o":0,"x":-2.24,"y":5},{"c":1,"o":1,"x":-2.1,"y":4.41},{"c":1,"o":2,"x":-1.9,"y":3.61},{"c":1,"o":3,"x":-1.7,"y":2.89},{"c":1,"o":4,"x":-1.5,"y":2.25},{"c":1,"o":5,"x":-1.3,"y":1.69},{"c":1,"o":6,"x":-1.1,"y":1.21},{"c":1,"o":7,"x":-0.9,"y":0.81},{"c":1,"o":8,"x":-0.7,"y":0.49},{"c":1,"o":9,"x":-0.5,"y":0.25},{"c":1,"o":10,"x":-0.3,"y":0.09},{"c":1,"o":11,"x":-0.15,"y":0.02},{"c":1,"o":12,"x":0,"y":0},{"c":1,"o":13,"x":0.15,"y":-0.02},{"c":1,"o":14,"x":0.3,"y":-0.09},{"c":1,"o":15,"x":0.5,"y":-0.25},{"c":1,"o":16,"x":0.7,"y":-0.49},{"c":1,"o":17,"x":0.9,"y":-0.81},{"c":1,"o":18,"x":1.1,"y":-1.21},{"c":1,"o":19,"x":1.3,"y":-1.69},{"c":1,"o":20,"x":1.5,"y":-2.25},{"c":1,"o":21,"x":1.7,"y":-2.89},{"c":1,"o":22,"x":1.9,"y":-3.61},{"c":1,"o":23,"x":2.1,"y":-4.41},{"c":1,"o":24,"x":2.24,"y":-5},
{"c":2,"o":0,"x":-2.24,"y":-5},{"c":2,"o":1,"x":-2.1,"y":-4.41},{"c":2,"o":2,"x":-1.9,"y":-3.61},{"c":2,"o":3,"x":-1.7,"y":-2.89},{"c":2,"o":4,"x":-1.5,"y":-2.25},{"c":2,"o":5,"x":-1.3,"y":-1.69},{"c":2,"o":6,"x":-1.1,"y":-1.21},{"c":2,"o":7,"x":-0.9,"y":-0.81},{"c":2,"o":8,"x":-0.7,"y":-0.49},{"c":2,"o":9,"x":-0.5,"y":-0.25},{"c":2,"o":10,"x":-0.3,"y":-0.09},{"c":2,"o":11,"x":-0.15,"y":-0.02},{"c":2,"o":12,"x":0,"y":0},{"c":2,"o":13,"x":0.15,"y":0.02},{"c":2,"o":14,"x":0.3,"y":0.09},{"c":2,"o":15,"x":0.5,"y":0.25},{"c":2,"o":16,"x":0.7,"y":0.49},{"c":2,"o":17,"x":0.9,"y":0.81},{"c":2,"o":18,"x":1.1,"y":1.21},{"c":2,"o":19,"x":1.3,"y":1.69},{"c":2,"o":20,"x":1.5,"y":2.25},{"c":2,"o":21,"x":1.7,"y":2.89},{"c":2,"o":22,"x":1.9,"y":3.61},{"c":2,"o":23,"x":2.1,"y":4.41},{"c":2,"o":24,"x":2.24,"y":5}
]
},
"encoding": {
"x": {"field": "x", "type": "quantitative", "scale": {"domain": [-5, 5], "nice": false, "zero": false}, "axis": {"values": [-5, -2.5, 0, 2.5, 5], "title": "x₁", "labelExpr": "'' + datum.value", "tickSize": -3, "labelPadding": 5, "titlePadding": 3, "labelFlush": false, "labelOverlap": false}},
"y": {"field": "y", "type": "quantitative", "scale": {"domain": [-5, 5], "nice": false, "zero": false}, "axis": {"values": [-5, -2.5, 0, 2.5, 5], "title": "x₂", "labelExpr": "'' + datum.value", "tickSize": -3, "labelPadding": 5, "titlePadding": 7, "labelFlush": false, "labelOverlap": false}}
},
"layer": [
{"data": {"name": "s"}, "mark": {"type": "line", "interpolate": "catmull-rom", "color": "#7a7aff", "strokeWidth": 0.8, "clip": true},
 "encoding": {"detail": {"field": "l", "type": "nominal"}, "order": {"field": "o", "type": "quantitative"}}},
{"data": {"name": "a"}, "mark": {"type": "point", "shape": "M -0.7 0.5 L 0 -0.5 L 0.7 0.5", "filled": false, "size": 36, "color": "#7a7aff", "strokeWidth": 0.9, "opacity": 1},
 "encoding": {"angle": {"field": "r", "type": "quantitative", "scale": null}}},
{"data": {"name": "g"}, "mark": {"type": "line", "color": "#33dd00", "strokeWidth": 2, "strokeDash": [5, 3], "clip": true},
 "encoding": {"detail": {"field": "c", "type": "nominal"}, "order": {"field": "o", "type": "quantitative"}}}
]
}
